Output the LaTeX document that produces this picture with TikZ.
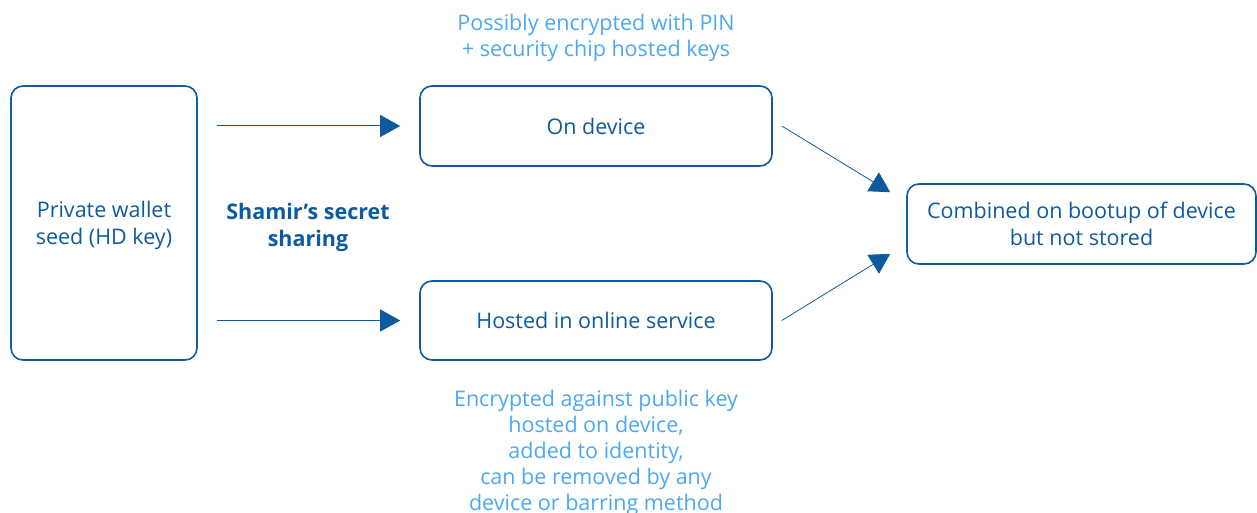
\documentclass[tikz,border=0pt]{standalone}
\usepackage{fontspec}
\setmainfont{Open Sans}
\usetikzlibrary{arrows.meta}
\definecolor{dblue}{HTML}{0E5A9E}
\definecolor{lblue}{HTML}{4DA8F0}
\begin{document}
\begin{tikzpicture}[x=1pt,y=-1pt,
  box/.style={draw=dblue, line width=1.6pt, rounded corners=12pt, text=dblue, align=center, font=\fontsize{21.5}{27}\selectfont, inner sep=0pt},
  note/.style={text=lblue, align=center, font=\fontsize{21.5}{26}\selectfont},
  conn/.style={draw=dblue, line width=1pt, -{Triangle[length=20pt,width=22pt]}}]
\useasboundingbox (0,0) rectangle (1257,513);
\node[box, minimum width=186pt, minimum height=274pt, text depth=0pt] (seed) at (104,223) {Private wallet\\seed (HD key)};
\node[box, minimum width=352pt, minimum height=80pt] (dev) at (596,126) {On device};
\node[box, minimum width=352pt, minimum height=79pt] (host) at (596,320.5) {Hosted in online service};
\node[box, minimum width=349pt, minimum height=80pt] (comb) at (1081.5,224) {Combined on bootup of device\\but not stored};
\node[text=dblue, align=center, font=\fontsize{21.5}{27}\bfseries\selectfont] (sss) at (308,227) {Shamir’s secret\\sharing};
\node[note] (n1) at (596,37.5) {Possibly encrypted with PIN\\+ security chip hosted keys};
\node[note] (n2) at (596,453) {Encrypted against public key\\hosted on device,\\added to identity,\\can be removed by any\\device or barring method};
\draw[conn] ([xshift=19pt]seed.east |- dev.west) -- ([xshift=-19pt]dev.west);
\draw[conn] ([xshift=19pt]seed.east |- host.west) -- ([xshift=-19pt]host.west);
\draw[conn, line width=0.8pt] ([xshift=9pt]dev.east) -- ([xshift=-16pt,yshift=-9pt]comb.north west);
\draw[conn, line width=0.8pt] ([xshift=9pt]host.east) -- ([xshift=-16pt,yshift=11pt]comb.south west);
\end{tikzpicture}
\end{document}
